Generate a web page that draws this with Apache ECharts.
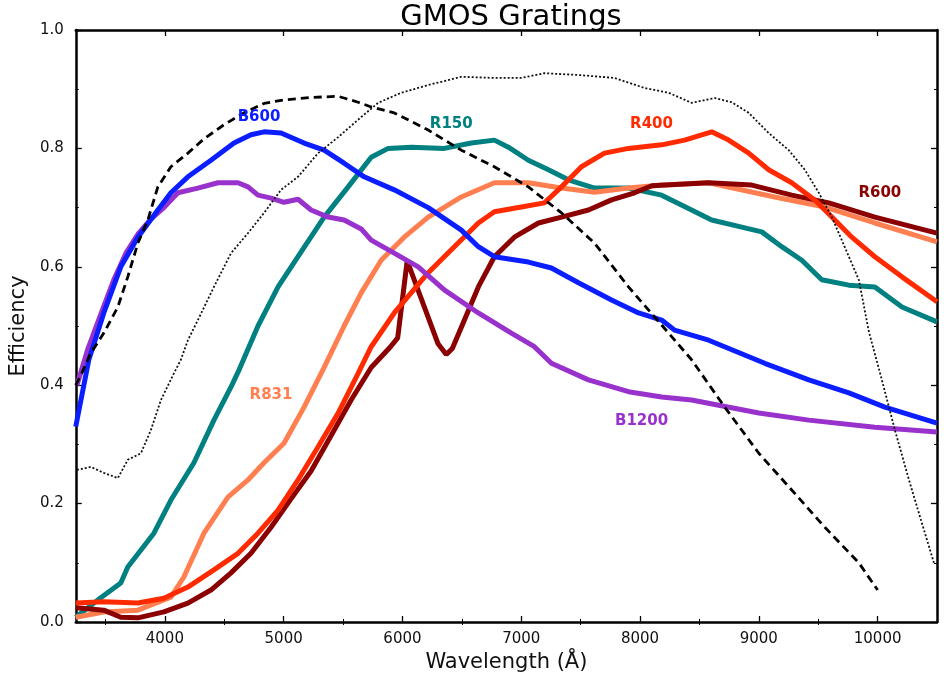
<!DOCTYPE html>
<html>
<head>
<meta charset="utf-8">
<script src="https://cdn.jsdelivr.net/npm/echarts@6/dist/echarts.min.js"></script>
<style>html,body{margin:0;padding:0;background:#fff}#c{width:944px;height:687px}</style>
</head>
<body>
<div id="c"></div>
<script>
// ---- data (wavelength in Angstrom, efficiency) ----
const xTicks = [4000, 5000, 6000, 7000, 8000, 9000, 10000];
const xMinorTicks = [3500, 4500, 5500, 6500, 7500, 8500, 9500];
const yTicks = [0.0, 0.2, 0.4, 0.6, 0.8, 1.0];

const b600 = [[3250,0.33],[3360,0.443],[3486,0.522],[3629,0.60],[3773,0.65],[3941,0.696],[4051,0.725],[4194,0.752],[4388,0.78],[4582,0.809],[4725,0.823],[4835,0.828],[4978,0.826],[5172,0.809],[5341,0.797],[5509,0.775],[5678,0.752],[5931,0.73],[6217,0.70],[6496,0.662],[6639,0.634],[6774,0.617],[7060,0.608],[7254,0.598],[7482,0.573],[7760,0.544],[7988,0.522],[8182,0.51],[8291,0.493],[8578,0.476],[9050,0.437],[9421,0.409],[9758,0.387],[10061,0.363],[10500,0.336]];

const b1200 = [[3260,0.40],[3350,0.46],[3480,0.53],[3570,0.578],[3672,0.623],[3773,0.655],[3880,0.68],[3992,0.70],[4110,0.725],[4278,0.733],[4447,0.742],[4616,0.742],[4700,0.735],[4784,0.721],[4894,0.716],[5003,0.709],[5121,0.714],[5231,0.696],[5374,0.684],[5509,0.679],[5653,0.664],[5737,0.645],[5931,0.623],[6133,0.60],[6352,0.561],[6639,0.522],[6917,0.488],[7111,0.465],[7254,0.437],[7566,0.409],[7903,0.389],[8182,0.38],[8434,0.375],[9000,0.353],[9421,0.341],[9977,0.329],[10500,0.321]];

const r150 = [[3250,0.008],[3435,0.037],[3629,0.066],[3688,0.093],[3908,0.15],[4051,0.206],[4245,0.269],[4413,0.341],[4557,0.397],[4616,0.422],[4784,0.50],[4953,0.566],[5172,0.633],[5341,0.684],[5543,0.735],[5737,0.785],[5880,0.80],[6074,0.802],[6352,0.80],[6580,0.809],[6774,0.814],[6892,0.802],[7060,0.78],[7229,0.764],[7397,0.747],[7617,0.733],[7903,0.733],[8182,0.721],[8434,0.696],[8603,0.679],[8856,0.667],[9025,0.659],[9193,0.634],[9362,0.611],[9530,0.578],[9758,0.569],[9977,0.566],[10205,0.532],[10500,0.507]];

const r831 = [[3250,0.008],[3486,0.017],[3773,0.02],[4051,0.042],[4160,0.076],[4329,0.15],[4531,0.211],[4700,0.24],[4835,0.269],[5003,0.302],[5172,0.363],[5341,0.43],[5509,0.50],[5653,0.556],[5821,0.611],[6015,0.65],[6217,0.684],[6496,0.718],[6774,0.742],[7060,0.742],[7339,0.733],[7617,0.726],[7903,0.733],[8182,0.738],[8578,0.742],[9134,0.718],[9556,0.701],[9977,0.674],[10500,0.642]];

const r400 = [[3250,0.032],[3486,0.034],[3773,0.032],[3992,0.04],[4194,0.059],[4413,0.088],[4616,0.116],[4784,0.15],[4953,0.189],[5121,0.24],[5290,0.296],[5459,0.353],[5627,0.42],[5737,0.465],[5931,0.522],[6217,0.59],[6437,0.634],[6639,0.674],[6774,0.693],[7001,0.701],[7195,0.708],[7339,0.735],[7507,0.769],[7701,0.792],[7903,0.80],[8182,0.806],[8375,0.814],[8603,0.828],[8746,0.814],[8915,0.792],[9083,0.764],[9277,0.742],[9471,0.713],[9615,0.684],[9783,0.65],[9977,0.617],[10205,0.583],[10500,0.541]];

const r600 = [[3250,0.024],[3486,0.02],[3629,0.008],[3773,0.007],[3992,0.017],[4194,0.032],[4388,0.054],[4557,0.083],[4725,0.116],[4894,0.16],[5062,0.208],[5231,0.255],[5400,0.315],[5568,0.375],[5737,0.43],[5900,0.465],[5960,0.48],[6040,0.61],[6300,0.47],[6369,0.452],[6420,0.462],[6496,0.498],[6639,0.566],[6774,0.617],[6942,0.65],[7145,0.674],[7339,0.684],[7566,0.696],[7760,0.713],[7954,0.725],[8100,0.737],[8578,0.742],[8940,0.738],[9277,0.721],[9589,0.708],[9977,0.684],[10500,0.657]];

const ccdDashed = [[3250,0.40],[3300,0.42],[3376,0.454],[3486,0.488],[3604,0.532],[3688,0.583],[3773,0.64],[3857,0.679],[3941,0.735],[4051,0.769],[4194,0.792],[4329,0.816],[4498,0.840],[4666,0.860],[4835,0.876],[5003,0.882],[5231,0.886],[5459,0.888],[5627,0.878],[5737,0.87],[5931,0.86],[6217,0.831],[6496,0.797],[6774,0.769],[7060,0.735],[7339,0.691],[7617,0.64],[7903,0.566],[8241,0.488],[8434,0.443],[8713,0.363],[9000,0.285],[9277,0.223],[9556,0.16],[9842,0.10],[10000,0.054]];

const ccdDotted = [[3260,0.257],[3376,0.262],[3486,0.252],[3604,0.243],[3688,0.274],[3798,0.285],[3882,0.324],[3967,0.375],[4076,0.42],[4135,0.443],[4194,0.476],[4278,0.51],[4413,0.566],[4557,0.623],[4700,0.657],[4835,0.691],[4978,0.73],[5121,0.752],[5290,0.792],[5459,0.819],[5653,0.853],[5796,0.877],[5990,0.894],[6217,0.907],[6496,0.921],[6774,0.919],[7001,0.919],[7195,0.927],[7482,0.924],[7785,0.919],[8038,0.902],[8241,0.894],[8434,0.877],[8628,0.885],[8772,0.878],[8915,0.86],[9083,0.826],[9252,0.797],[9387,0.764],[9505,0.725],[9615,0.684],[9724,0.633],[9842,0.578],[9927,0.49],[10036,0.409],[10146,0.324],[10264,0.24],[10373,0.167],[10474,0.10]];

// curve name labels: name -> [wavelength, efficiency]
const curveLabels = {
  B600: [4793, 0.853], R150: [6411, 0.841], R400: [8097, 0.841],
  R600: [10019, 0.725], R831: [4894, 0.383], B1200: [8013, 0.340]
};

const FONT = 'DejaVu Sans';
const chart = echarts.init(document.getElementById('c'), null, {renderer: 'canvas'});

function gratingSeries(name, data, color) {
  const lp = curveLabels[name];
  return {
    name: name, type: 'line', data: data, symbol: 'none', smooth: false,
    xAxisIndex: 0, yAxisIndex: 0,
    lineStyle: {color: color, width: 5},
    markPoint: {
      symbol: 'circle', symbolSize: 1, itemStyle: {color: 'rgba(0,0,0,0)'},
      label: {show: true, position: 'inside', formatter: name, color: color,
              fontFamily: FONT, fontWeight: 'bold', fontSize: 15},
      data: [{name: name, coord: lp}]
    },
    z: 2
  };
}

const common = {type: 'value', min: 3250, max: 10500, splitLine: {show: false}, gridIndex: 0};
const axisLineStyle = {show: true, onZero: false, lineStyle: {color: '#000', width: 2.5}};

const option = {
  animation: false,
  backgroundColor: '#fff',
  title: {text: 'GMOS Gratings', left: 506, top: -2, textAlign: 'center',
          textStyle: {fontFamily: FONT, fontSize: 29, fontWeight: 'normal', color: '#000'}},
  grid: {left: 75, right: 7, top: 30, bottom: 65, containLabel: false},
  xAxis: [
    Object.assign({}, common, {position: 'bottom',
      axisLine: axisLineStyle,
      axisTick: {show: true, inside: true, length: 6, customValues: xTicks, lineStyle: {color: '#000', width: 1.3}},
      axisLabel: {show: true, customValues: xTicks, margin: 10, fontFamily: FONT, fontSize: 15, color: '#111',
                  formatter: v => String(v)},
      name: 'Wavelength (Å)', nameLocation: 'middle', nameGap: 29,
      nameTextStyle: {fontFamily: FONT, fontSize: 21, color: '#111'}}),
    Object.assign({}, common, {position: 'bottom',
      axisLine: {show: false},
      axisTick: {show: true, inside: true, length: 3, customValues: xMinorTicks, lineStyle: {color: '#000', width: 1}},
      axisLabel: {show: false}}),
    Object.assign({}, common, {position: 'top',
      axisLine: axisLineStyle,
      axisTick: {show: true, inside: true, length: 6, customValues: xTicks, lineStyle: {color: '#000', width: 1.3}},
      axisLabel: {show: false}}),
    Object.assign({}, common, {position: 'top',
      axisLine: {show: false},
      axisTick: {show: true, inside: true, length: 3, customValues: xMinorTicks, lineStyle: {color: '#000', width: 1}},
      axisLabel: {show: false}})
  ],
  yAxis: [
    {type: 'value', min: 0, max: 1, interval: 0.2, position: 'left',
     splitLine: {show: false},
     axisLine: axisLineStyle,
     axisTick: {show: true, inside: true, length: 6, lineStyle: {color: '#000', width: 1.3}},
     minorTick: {show: true, splitNumber: 2, length: 3, lineStyle: {color: '#000', width: 1}},
     axisLabel: {show: true, margin: 12, fontFamily: FONT, fontSize: 15, color: '#111',
                 formatter: v => v.toFixed(1)},
     name: 'Efficiency', nameLocation: 'middle', nameGap: 37,
     nameTextStyle: {fontFamily: FONT, fontSize: 21, color: '#111'}},
    {type: 'value', min: 0, max: 1, interval: 0.2, position: 'right',
     splitLine: {show: false},
     axisLine: axisLineStyle,
     axisTick: {show: true, inside: true, length: 6, lineStyle: {color: '#000', width: 1.3}},
     minorTick: {show: true, splitNumber: 2, length: 3, lineStyle: {color: '#000', width: 1}},
     axisLabel: {show: false}}
  ],
  series: [
    gratingSeries('R150', r150, '#008080'),
    gratingSeries('R831', r831, '#ff7f50'),
    gratingSeries('R600', r600, '#8b0000'),
    gratingSeries('R400', r400, '#ff2a00'),
    gratingSeries('B1200', b1200, '#9932cc'),
    gratingSeries('B600', b600, '#0a1eff'),
    {name: 'CCD1', type: 'line', data: ccdDashed, symbol: 'none', xAxisIndex: 0, yAxisIndex: 0,
     lineStyle: {color: '#000', width: 2.8, type: [8, 5]}, z: 3},
    {name: 'CCD2', type: 'line', data: ccdDotted, symbol: 'none', xAxisIndex: 0, yAxisIndex: 0,
     lineStyle: {color: '#111', width: 1.8, type: [2, 2]}, z: 3}
  ]
};
chart.setOption(option);
</script>
</body>
</html>
